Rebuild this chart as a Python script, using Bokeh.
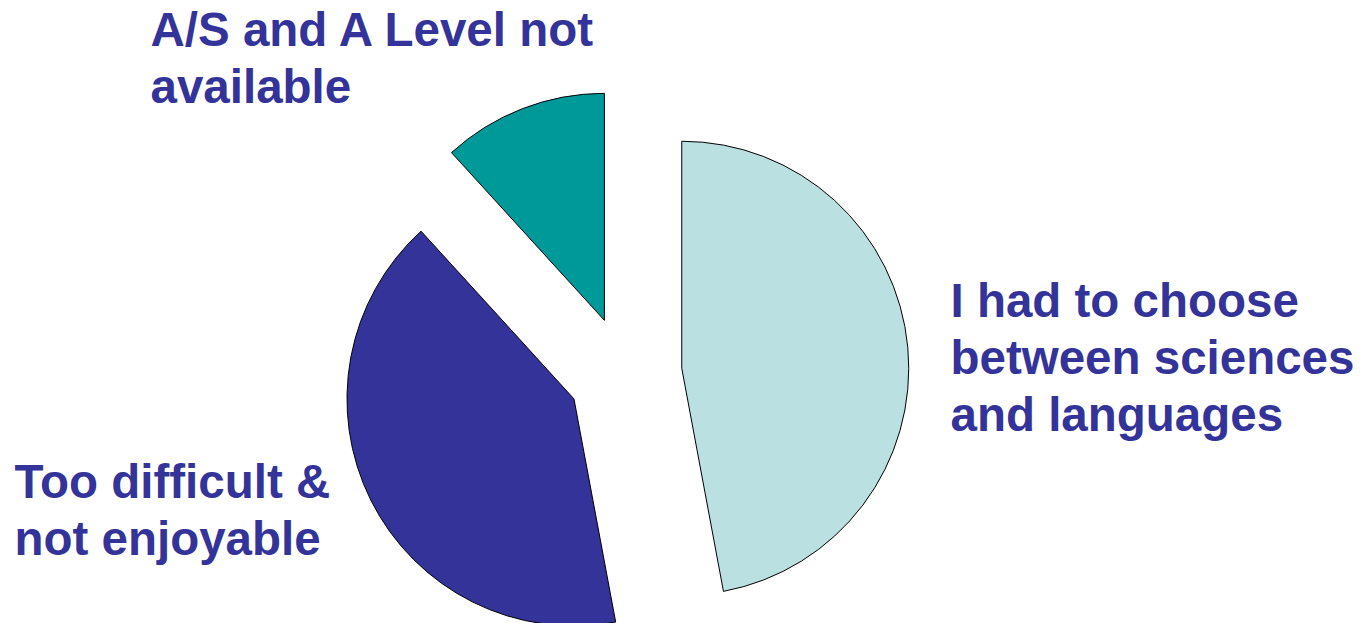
import math
from bokeh.plotting import figure
from bokeh.models import Range1d, ColumnDataSource
from bokeh.core.properties import value
from bokeh.embed import file_html
from bokeh.resources import INLINE

# ---- data ----
categories = [
    "I had to choose\nbetween sciences\nand languages",
    "Too difficult &\nnot enjoyable",
    "A/S and A Level not\navailable",
]
counts = [8, 7, 2]
colors = ["#BAE0E2", "#333399", "#009999"]

# ---- layout / style ----
W, H = 1364, 623
CX, CY = 624.5, 250.0      # pie centre (plot units == pixels, y up)
R = 227.0
EXPLODE = 57.0
FONT_PX = 47.5
LINE_GAP = 57
TEXT_COLOR = "#333399"
# label anchors: (x, first-line y) in plot units
label_anchor = [(950, 623 - 300), (14, 623 - 481), (150, 623 - 29)]

p = figure(width=W, height=H, output_backend="svg", toolbar_location=None,
           x_range=Range1d(0, W), y_range=Range1d(0, H),
           min_border=0)
p.axis.visible = False
p.grid.visible = False
p.outline_line_color = None
p.background_fill_color = "white"
p.border_fill_color = "white"

total = float(sum(counts))
xs, ys, starts, ends = [], [], [], []
cum = 0.0
for c in counts:
    f0 = cum / total
    f1 = (cum + c) / total
    cum += c
    mid = (f0 + f1) / 2 * 2 * math.pi  # clockwise from top
    xs.append(CX + EXPLODE * math.sin(mid))
    ys.append(CY + EXPLODE * math.cos(mid))
    starts.append(math.pi / 2 - f1 * 2 * math.pi)
    ends.append(math.pi / 2 - f0 * 2 * math.pi)

src = ColumnDataSource(dict(x=xs, y=ys, start=starts, end=ends, color=colors))
p.wedge(x="x", y="y", radius=R, start_angle="start", end_angle="end",
        direction="anticlock", fill_color="color", line_color="black",
        line_width=1, source=src)

tx, ty, tt = [], [], []
for cat, (ax, ay) in zip(categories, label_anchor):
    for i, line in enumerate(cat.split("\n")):
        tx.append(ax)
        ty.append(ay - i * LINE_GAP)
        tt.append(line)

p.text(x=tx, y=ty, text=tt, text_font=value("Liberation Sans"),
       text_font_style="bold", text_font_size=f"{FONT_PX}px",
       text_color=TEXT_COLOR, text_baseline="alphabetic", text_align="left")

open("out.html", "w").write(file_html(p, INLINE))
